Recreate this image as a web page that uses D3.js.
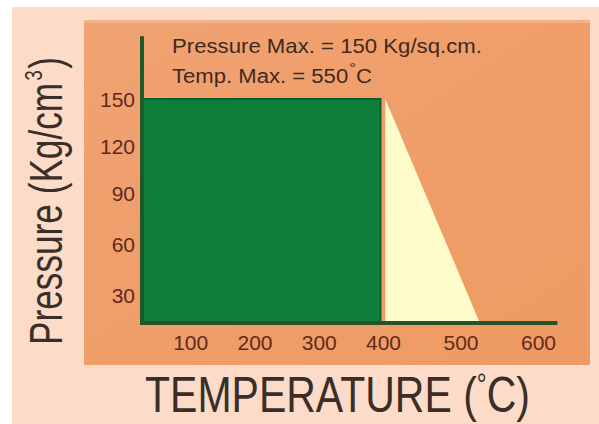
<!DOCTYPE html>
<html><head><meta charset="utf-8">
<script src="https://cdn.jsdelivr.net/npm/d3@7"></script>
<style>html,body{margin:0;padding:0;background:#fff;}svg{display:block;}</style>
</head><body>
<svg id="chart" width="599" height="424"></svg>
<script>
// ---- data ----
const xTicks = [100, 200, 300, 400, 500, 600];
const yTicks = [30, 60, 90, 120, 150];
const safeZoneTemp = [25, 396];      // full-pressure region (°C)
const safeZonePressure = 150;        // Kg/cm²
const derateTemps = [403, 403, 525]; // derating triangle (°C)
const deratePressures = [150, 0, 0]; // Kg/cm²
const axisMaxTemp = 625;
const axisMaxPressure = 190;
const note1 = "Pressure Max. = 150 Kg/sq.cm.";
const note2 = ["Temp. Max. = 550", "°", "C"];
const xTitle = ["TEMPERATURE (", "°", "C)"];
const yTitle = ["Pressure (Kg/cm", "3", ")"];

const svg = d3.select("#chart");
const font = "'Liberation Sans', Arial, Helvetica, sans-serif";

// nonuniform scales as drawn in the original graphic
const x = d3.scaleLinear().domain([25, 400, 600]).range([142, 383, 538]);
const y = d3.scaleLinear().domain([0, 30, 90, 150]).range([323, 295, 193, 99]);

// horizontally condense a text (anchored at its start) to a target width
function fit(sel, tx, ty, rot, target) {
  sel.attr("x", 0).attr("y", 0).attr("transform", `translate(${tx},${ty}) rotate(${rot})`);
  const w = sel.node().getBBox().width;
  sel.attr("transform", `translate(${tx},${ty}) rotate(${rot}) scale(${target / w},1)`);
}

// backgrounds
svg.append("rect").attr("x", 12).attr("y", 7).attr("width", 587).attr("height", 417).attr("fill", "#fcdcc8");
const grad = svg.append("defs").append("linearGradient").attr("id", "pg").attr("x1", 0).attr("y1", 0).attr("x2", 1).attr("y2", 1);
grad.append("stop").attr("offset", "0%").attr("stop-color", "#f1a272");
grad.append("stop").attr("offset", "100%").attr("stop-color", "#ee9a62");
svg.append("rect").attr("x", 84).attr("y", 20).attr("width", 506).attr("height", 345).attr("fill", "url(#pg)");
svg.append("rect").attr("x", 84).attr("y", 20).attr("width", 506).attr("height", 3).attr("fill", "#f6b890").attr("opacity", 0.7);

// safe zone rect
svg.append("rect")
  .attr("x", x(safeZoneTemp[0]))
  .attr("y", y(safeZonePressure))
  .attr("width", x(safeZoneTemp[1]) - x(safeZoneTemp[0]))
  .attr("height", y(0) - y(safeZonePressure))
  .attr("fill", "#0f7d3b").attr("stroke", "#0b5f2c").attr("stroke-width", 2);

// derating triangle
const tri = derateTemps.map((t, i) => [x(t), y(deratePressures[i])]);
svg.append("path").attr("d", d3.line()(tri) + "Z").attr("fill", "#fdfbc9");

// axis lines
svg.append("line").attr("x1", x(25)).attr("x2", x(25)).attr("y1", y(axisMaxPressure)).attr("y2", y(0) + 2)
  .attr("stroke", "#1d5a2a").attr("stroke-width", 4);
svg.append("line").attr("x1", x(25)).attr("x2", x(axisMaxTemp)).attr("y1", y(0)).attr("y2", y(0))
  .attr("stroke", "#25532a").attr("stroke-width", 4);

// tick labels via d3 axes
const xa = svg.append("g").attr("transform", `translate(0,${y(0) + 5})`)
  .call(d3.axisBottom(x).tickValues(xTicks).tickSize(0).tickPadding(0));
const ya = svg.append("g").attr("transform", `translate(${x(25) - 7},0)`)
  .call(d3.axisLeft(y).tickValues(yTicks).tickSize(0).tickPadding(0));
[xa, ya].forEach(g => {
  g.select(".domain").remove();
  g.selectAll("text").attr("font-family", font).attr("font-size", 21).attr("fill", "#5e2a1f");
});
xa.selectAll("text").attr("dy", "1.05em");
ya.selectAll("text").attr("dy", "0.36em");

// annotation
const t1 = svg.append("text").attr("font-family", font).attr("font-size", 20).attr("fill", "#3e2a20").text(note1);
fit(t1, 172, 53, 0, 310);
const t2 = svg.append("text").attr("font-family", font).attr("font-size", 20).attr("fill", "#3e2a20");
t2.append("tspan").text(note2[0]);
t2.append("tspan").text(note2[1]).attr("dy", -10).attr("font-size", 15).attr("dx", 1);
t2.append("tspan").text(note2[2]).attr("dy", 10);
fit(t2, 172, 83, 0, 200);

// axis titles
const xt = svg.append("text").attr("font-family", font).attr("font-size", 50).attr("fill", "#3b2e27");
xt.append("tspan").text(xTitle[0]);
xt.append("tspan").text(xTitle[1]).attr("font-size", 30).attr("dy", -18);
xt.append("tspan").text(xTitle[2]).attr("dy", 18);
fit(xt, 145, 412, 0, 385);

const yt = svg.append("text").attr("font-family", font).attr("font-size", 46).attr("fill", "#3b2e27");
yt.append("tspan").text(yTitle[0]);
yt.append("tspan").text(yTitle[1]).attr("font-size", 24).attr("dy", -20).attr("dx", 3);
yt.append("tspan").text(yTitle[2]).attr("dy", 20).attr("dx", 2);
fit(yt, 62, 345, -90, 288);
</script>
</body></html>
